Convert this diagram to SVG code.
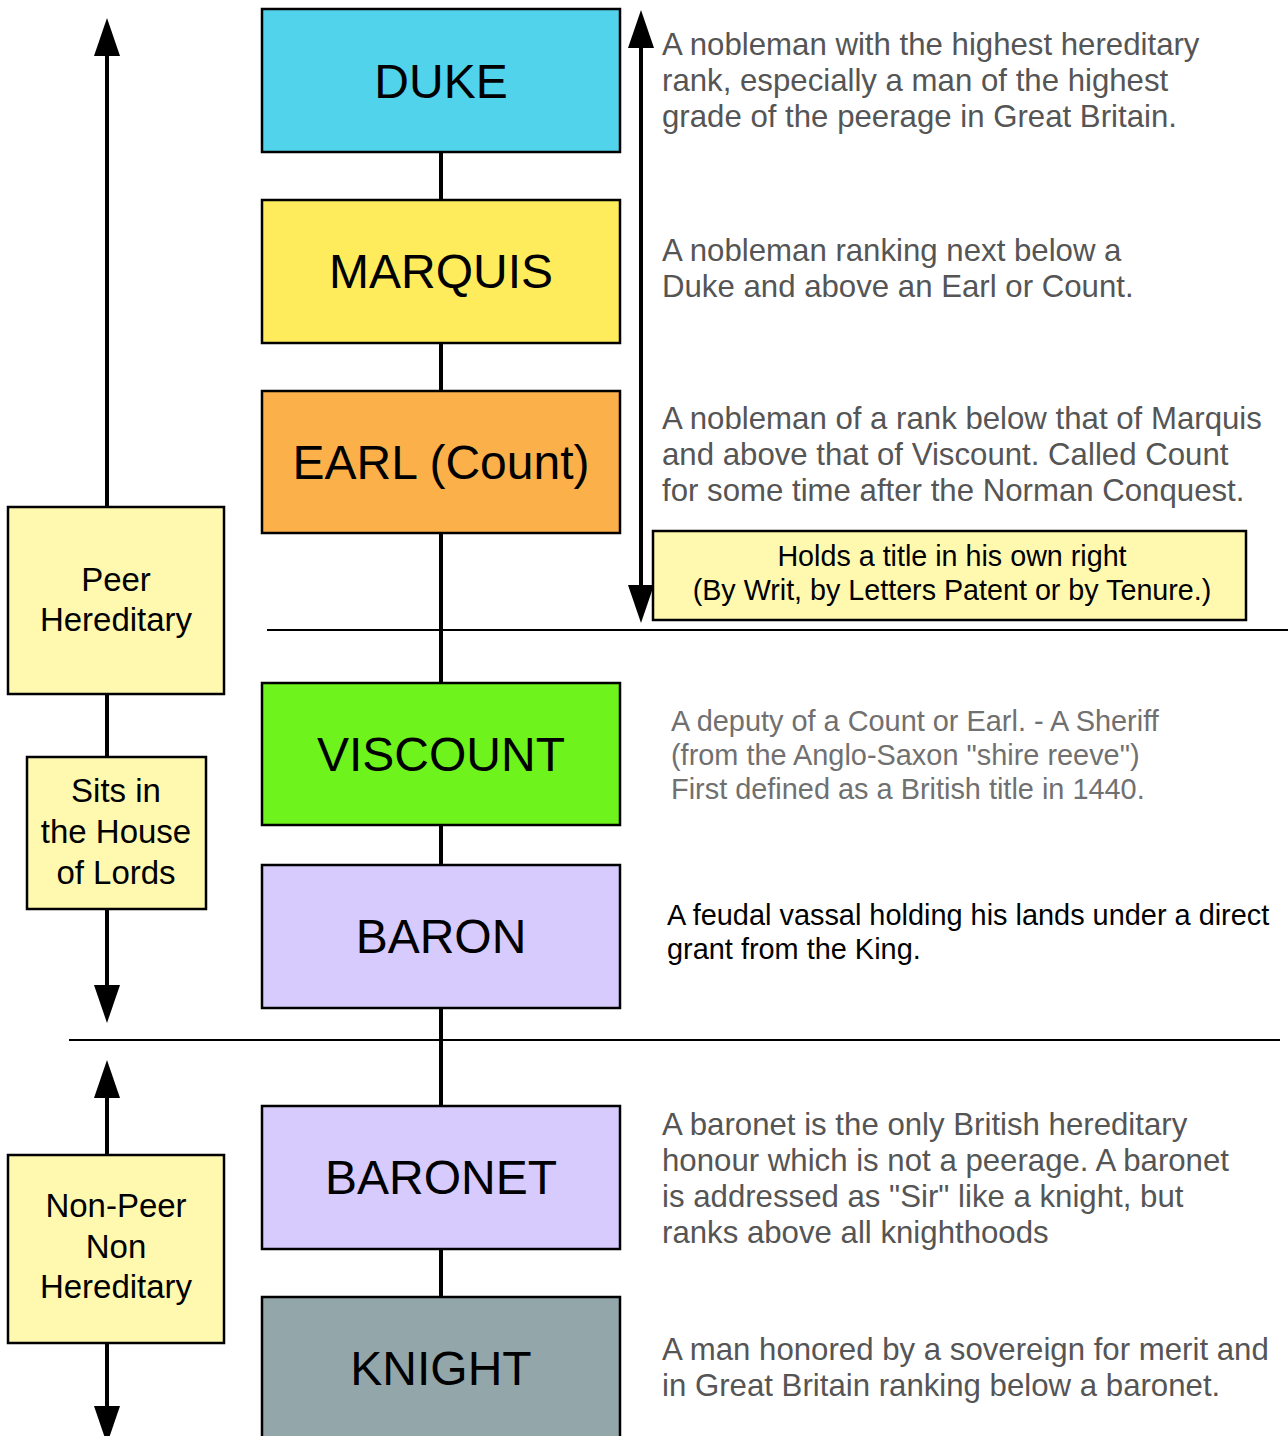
<svg xmlns="http://www.w3.org/2000/svg" width="1288" height="1436" viewBox="0 0 1288 1436">
  <style>
    .rank { stroke: #000; stroke-width: 2.5; }
    .label { font-family: "Liberation Sans", Arial, sans-serif; font-size: 48px; text-anchor: middle; fill: #000; }
    .note { fill: #FFF9B0; stroke: #000; stroke-width: 2.5; }
    .noteText { font-family: "Liberation Sans", Arial, sans-serif; font-size: 33px; text-anchor: middle; fill: #000; }
    .boxText { font-family: "Liberation Sans", Arial, sans-serif; font-size: 28.7px; text-anchor: middle; fill: #000; }
    .desc { font-family: "Liberation Sans", Arial, sans-serif; font-size: 31.2px; fill: #555; }
    .descLight { font-family: "Liberation Sans", Arial, sans-serif; font-size: 28.9px; fill: #707070; }
    .descDark { font-family: "Liberation Sans", Arial, sans-serif; font-size: 28.9px; fill: #000; }
    .line { stroke: #000; stroke-width: 4; fill: none; }
    .rule { stroke: #000; stroke-width: 2; }
  </style>
  <defs>
    <marker id="head" viewBox="0 0 38 26" refX="0" refY="13" markerWidth="38" markerHeight="26" markerUnits="userSpaceOnUse" orient="auto">
      <path d="M0,0 L38,13 L0,26 Z" fill="#000"/>
    </marker>
  </defs>
  <rect width="1288" height="1436" fill="#fff"/>

  <!-- connectors -->
  <g id="connectors">
    <line class="line" x1="441" y1="152" x2="441" y2="1297"/>
    <line class="rule" x1="267" y1="630" x2="1288" y2="630"/>
    <line class="rule" x1="69" y1="1040" x2="1280" y2="1040"/>
    <!-- left peerage arrows -->
    <line class="line" x1="107" y1="507" x2="107" y2="56" marker-end="url(#head)"/>
    <line class="line" x1="107" y1="694" x2="107" y2="757"/>
    <line class="line" x1="107" y1="909" x2="107" y2="985" marker-end="url(#head)"/>
    <!-- non-peer arrows -->
    <line class="line" x1="107" y1="1155" x2="107" y2="1098" marker-end="url(#head)"/>
    <line class="line" x1="107" y1="1343" x2="107" y2="1406" marker-end="url(#head)"/>
    <!-- right title arrow -->
    <line class="line" x1="641" y1="300" x2="641" y2="48" marker-end="url(#head)"/>
    <line class="line" x1="641" y1="300" x2="641" y2="585" marker-end="url(#head)"/>
  </g>

  <!-- ranks -->
  <g id="duke">
    <rect class="rank" x="262" y="9" width="358" height="143" fill="#50D3EB"/>
    <text class="label" x="441" y="98">DUKE</text>
  </g>
  <g id="marquis">
    <rect class="rank" x="262" y="200" width="358" height="143" fill="#FEEC5C"/>
    <text class="label" x="441" y="288">MARQUIS</text>
  </g>
  <g id="earl">
    <rect class="rank" x="262" y="391" width="358" height="142" fill="#FCB04A"/>
    <text class="label" x="441" y="479">EARL (Count)</text>
  </g>
  <g id="viscount">
    <rect class="rank" x="262" y="683" width="358" height="142" fill="#6EF41C"/>
    <text class="label" x="441" y="771">VISCOUNT</text>
  </g>
  <g id="baron">
    <rect class="rank" x="262" y="865" width="358" height="143" fill="#D7CBFD"/>
    <text class="label" x="441" y="953">BARON</text>
  </g>
  <g id="baronet">
    <rect class="rank" x="262" y="1106" width="358" height="143" fill="#D7CBFD"/>
    <text class="label" x="441" y="1194">BARONET</text>
  </g>
  <g id="knight">
    <rect class="rank" x="262" y="1297" width="358" height="150" fill="#93A6AA"/>
    <text class="label" x="441" y="1385">KNIGHT</text>
  </g>

  <!-- side categories -->
  <g id="peer-hereditary">
    <rect class="note" x="8" y="507" width="216" height="187"/>
    <text class="noteText" x="116" y="591">Peer</text>
    <text class="noteText" x="116" y="631">Hereditary</text>
  </g>
  <g id="house-of-lords">
    <rect class="note" x="27" y="757" width="179" height="152"/>
    <text class="noteText" x="116" y="802">Sits in</text>
    <text class="noteText" x="116" y="843">the House</text>
    <text class="noteText" x="116" y="884">of Lords</text>
  </g>
  <g id="non-peer">
    <rect class="note" x="8" y="1155" width="216" height="188"/>
    <text class="noteText" x="116" y="1217">Non-Peer</text>
    <text class="noteText" x="116" y="1258">Non</text>
    <text class="noteText" x="116" y="1298">Hereditary</text>
  </g>
  <g id="own-right">
    <rect class="note" x="653" y="531" width="593" height="89"/>
    <text class="boxText" x="952" y="566">Holds a title in his own right</text>
    <text class="boxText" x="952" y="600">(By Writ, by Letters Patent or by Tenure.)</text>
  </g>

  <!-- descriptions -->
  <g id="descriptions">
    <text class="desc" x="662" y="55">A nobleman with the highest hereditary</text>
    <text class="desc" x="662" y="91">rank, especially a man of the highest</text>
    <text class="desc" x="662" y="127">grade of the peerage in Great Britain.</text>

    <text class="desc" x="662" y="261">A nobleman ranking next below a</text>
    <text class="desc" x="662" y="297">Duke and above an Earl or Count.</text>

    <text class="desc" x="662" y="429">A nobleman of a rank below that of Marquis</text>
    <text class="desc" x="662" y="465">and above that of Viscount. Called Count</text>
    <text class="desc" x="662" y="501">for some time after the Norman Conquest.</text>

    <text class="descLight" x="671" y="731">A deputy of a Count or Earl. - A Sheriff</text>
    <text class="descLight" x="671" y="765">(from the Anglo-Saxon "shire reeve")</text>
    <text class="descLight" x="671" y="799">First defined as a British title in 1440.</text>

    <text class="descDark" x="667" y="925">A feudal vassal holding his lands under a direct</text>
    <text class="descDark" x="667" y="959">grant from the King.</text>

    <text class="desc" x="662" y="1135">A baronet is the only British hereditary</text>
    <text class="desc" x="662" y="1171">honour which is not a peerage. A baronet</text>
    <text class="desc" x="662" y="1207">is addressed as "Sir" like a knight, but</text>
    <text class="desc" x="662" y="1243">ranks above all knighthoods</text>

    <text class="desc" x="662" y="1360">A man honored by a sovereign for merit and</text>
    <text class="desc" x="662" y="1396">in Great Britain ranking below a baronet.</text>
  </g>
</svg>
